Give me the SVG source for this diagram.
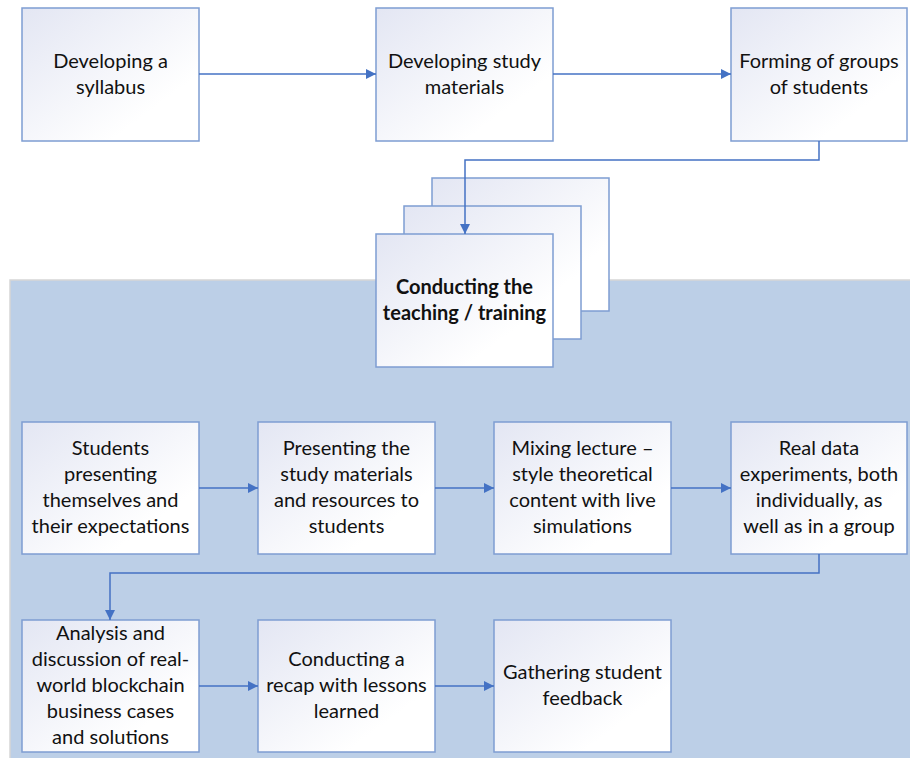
<svg xmlns="http://www.w3.org/2000/svg" width="910" height="758" viewBox="0 0 910 758">
<defs>
<linearGradient id="g" x1="0" y1="0" x2="1" y2="1">
<stop offset="0" stop-color="#E3E6F3"/>
<stop offset="0.75" stop-color="#FFFFFF"/>
</linearGradient>
<marker id="ah" viewBox="0 0 10 10" refX="10" refY="5" markerWidth="10" markerHeight="10" markerUnits="userSpaceOnUse" orient="auto">
<path d="M0,0 L10,5 L0,10 z" fill="#4472C4"/>
</marker>
<style>
.box{fill:url(#g);stroke:#7E9DD2;stroke-width:1.5}
.t{font-family:Lato,"Open Sans",sans-serif;font-size:20px;fill:#111111;text-anchor:middle}
.b{font-weight:bold}
.c{fill:none;stroke:#4472C4;stroke-width:1.5;marker-end:url(#ah)}
</style>
</defs>
<rect width="910" height="758" fill="#FFFFFF"/>
<g id="region">
<rect x="10" y="280" width="900" height="478" fill="#BCCFE7"/>
<polyline points="10,758 10,280 910,280" fill="none" stroke="#D6D6D6" stroke-width="1.5"/>
</g>
<g id="n1"><rect class="box" x="22" y="8" width="177" height="133"/>
<text class="t" x="110.5"><tspan x="110.5" y="67.5">Developing a</tspan><tspan x="110.5" y="93.5">syllabus</tspan></text></g>
<g id="n2"><rect class="box" x="376" y="8" width="177" height="133"/>
<text class="t"><tspan x="464.5" y="67.5">Developing study</tspan><tspan x="464.5" y="93.5">materials</tspan></text></g>
<g id="n3"><rect class="box" x="731" y="8" width="176" height="133"/>
<text class="t"><tspan x="819" y="67.5">Forming of groups</tspan><tspan x="819" y="93.5">of students</tspan></text></g>
<g id="n4">
<rect class="box" x="432" y="178" width="177" height="133"/>
<rect class="box" x="404" y="206" width="177" height="133"/>
<rect class="box" x="376" y="234" width="177" height="133"/>
<text class="t b"><tspan x="464.5" y="293.5">Conducting the</tspan><tspan x="464.5" y="319.5">teaching / training</tspan></text></g>
<g id="n5"><rect class="box" x="22" y="422" width="177" height="132"/>
<text class="t"><tspan x="110.5" y="455">Students</tspan><tspan x="110.5" y="481">presenting</tspan><tspan x="110.5" y="507">themselves and</tspan><tspan x="110.5" y="533">their expectations</tspan></text></g>
<g id="n6"><rect class="box" x="258" y="422" width="177" height="132"/>
<text class="t"><tspan x="346.5" y="455">Presenting the</tspan><tspan x="346.5" y="481">study materials</tspan><tspan x="346.5" y="507">and resources to</tspan><tspan x="346.5" y="533">students</tspan></text></g>
<g id="n7"><rect class="box" x="494" y="422" width="177" height="132"/>
<text class="t"><tspan x="582.5" y="455">Mixing lecture –</tspan><tspan x="582.5" y="481">style theoretical</tspan><tspan x="582.5" y="507">content with live</tspan><tspan x="582.5" y="533">simulations</tspan></text></g>
<g id="n8"><rect class="box" x="731" y="422" width="176" height="132"/>
<text class="t"><tspan x="819" y="455">Real data</tspan><tspan x="819" y="481">experiments, both</tspan><tspan x="819" y="507">individually, as</tspan><tspan x="819" y="533">well as in a group</tspan></text></g>
<g id="n9"><rect class="box" x="22" y="620" width="177" height="132"/>
<text class="t"><tspan x="110.5" y="640">Analysis and</tspan><tspan x="110.5" y="666">discussion of real-</tspan><tspan x="110.5" y="692">world blockchain</tspan><tspan x="110.5" y="718">business cases</tspan><tspan x="110.5" y="744">and solutions</tspan></text></g>
<g id="n10"><rect class="box" x="258" y="620" width="177" height="132"/>
<text class="t"><tspan x="346.5" y="666">Conducting a</tspan><tspan x="346.5" y="692">recap with lessons</tspan><tspan x="346.5" y="718">learned</tspan></text></g>
<g id="n11"><rect class="box" x="494" y="620" width="177" height="132"/>
<text class="t"><tspan x="582.5" y="679">Gathering student</tspan><tspan x="582.5" y="705">feedback</tspan></text></g>
<g id="connectors">
<line class="c" x1="199" y1="74" x2="376" y2="74"/>
<line class="c" x1="553" y1="74" x2="731" y2="74"/>
<polyline class="c" points="819,141 819,160 465,160 465,234"/>
<line class="c" x1="199" y1="488" x2="258" y2="488"/>
<line class="c" x1="435" y1="488" x2="494" y2="488"/>
<line class="c" x1="671" y1="488" x2="731" y2="488"/>
<polyline class="c" points="819,554 819,573 110,573 110,620"/>
<line class="c" x1="199" y1="686" x2="258" y2="686"/>
<line class="c" x1="435" y1="686" x2="494" y2="686"/>
</g>
</svg>
